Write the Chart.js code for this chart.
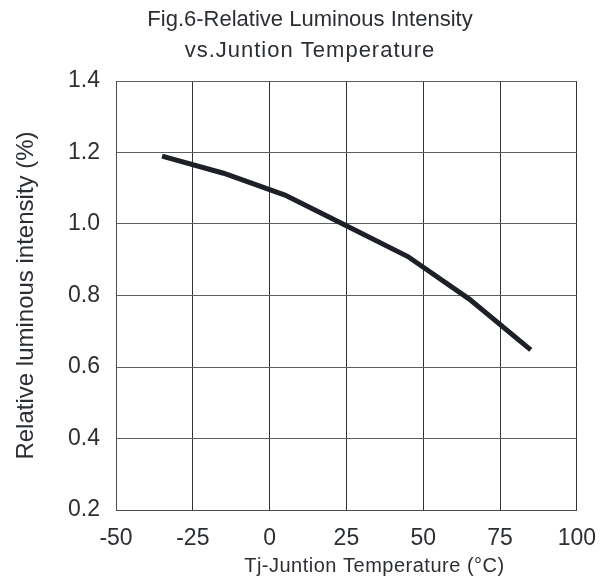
<!DOCTYPE html>
<html lang="en">
<head>
  <meta charset="UTF-8" />
  <title>Fig.6 Relative Luminous Intensity vs. Junction Temperature</title>
  <script src="https://cdn.jsdelivr.net/npm/chart.js"></script>
  <style>
    body {
      margin: 0;
      padding: 0;
      background: #ffffff;
    }
    #wrap {
      width: 611px;
      height: 584px;
    }
  </style>
</head>
<body>
  <div id="wrap">
    <canvas id="myChart" width="611" height="584"></canvas>
  </div>

  <script>
    // data
    const temps = [-35, -15, 5, 25, 45, 65, 85];
    const intensity = [1.19, 1.142, 1.081, 0.995, 0.909, 0.79, 0.648];

    const titleLines = ["Fig.6-Relative Luminous Intensity", "vs.Juntion Temperature"];
    const xTitle = "Tj-Juntion Temperature (°C)";
    const yTitle = "Relative luminous intensity (%)";

    const FONT = "'Liberation Sans', Arial, sans-serif";
    const TEXT = "#2b2f33";

    // chart title and x axis title are not centred on the plot in the original,
    // so they are drawn here instead of by the built-in title boxes
    const textPlugin = {
      id: "figText",
      afterDraw(chart) {
        const { ctx, chartArea } = chart;
        ctx.save();
        ctx.fillStyle = TEXT;
        ctx.textAlign = "center";
        ctx.textBaseline = "middle";
        ctx.font = "22px " + FONT;
        ctx.fillText(titleLines[0], 310, 20);
        ctx.letterSpacing = "1px";
        ctx.fillText(titleLines[1], 310, 51);
        ctx.letterSpacing = "0.5px";
        ctx.font = "20px " + FONT;
        ctx.fillText(xTitle, (chartArea.left + chartArea.right) / 2 + 28, 566);
        ctx.restore();
      }
    };

    const ctx = document.getElementById("myChart").getContext("2d");

    const chart = new Chart(ctx, {
      type: "line",
      data: {
        datasets: [
          {
            data: temps.map((t, i) => ({ x: t, y: intensity[i] })),
            borderColor: "#1d2127",
            borderWidth: 5,
            pointRadius: 0,
            tension: 0,
            fill: false
          }
        ]
      },
      options: {
        responsive: false,
        animation: false,
        layout: {
          padding: { top: 81, right: 33, bottom: 0, left: 0 }
        },
        plugins: {
          legend: { display: false },
          tooltip: { enabled: false },
          title: { display: false }
        },
        scales: {
          x: {
            type: "linear",
            min: -50,
            max: 100,
            ticks: {
              stepSize: 25,
              color: TEXT,
              padding: 15,
              font: { family: FONT, size: 23 }
            },
            grid: {
              color: "#2e3338",
              lineWidth: 1,
              drawTicks: false
            },
            border: { color: "#4a4f55", width: 1 },
            afterFit(scale) {
              scale.height = 74;
            }
          },
          y: {
            min: 0.2,
            max: 1.4,
            ticks: {
              stepSize: 0.2,
              color: TEXT,
              padding: 16,
              font: { family: FONT, size: 23 },
              callback: v => v.toFixed(1)
            },
            grid: {
              color: "#5a5f64",
              lineWidth: 1,
              drawTicks: false
            },
            border: { color: "#4a4f55", width: 1 },
            title: {
              display: true,
              text: yTitle,
              color: TEXT,
              font: { family: FONT, size: 24 },
              padding: { top: 12, bottom: 0 }
            },
            afterFit(scale) {
              scale.width = 116;
            }
          }
        }
      },
      plugins: [textPlugin]
    });
  </script>
</body>
</html>
